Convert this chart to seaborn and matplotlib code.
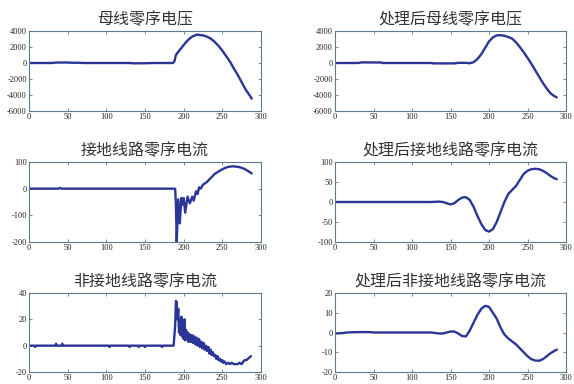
import numpy as np
import pandas as pd
import matplotlib
matplotlib.use("Agg")
import matplotlib.pyplot as plt
import seaborn as sns

sns.set_style("white")
plt.rcParams['font.family'] = ['Liberation Serif', 'Noto Sans CJK SC', 'DejaVu Sans']
plt.rcParams['axes.unicode_minus'] = False

titles = ["母线零序电压", "处理后母线零序电压",
          "接地线路零序电流", "处理后接地线路零序电流",
          "非接地线路零序电流", "处理后非接地线路零序电流"]

# Panel 1: bus zero-sequence voltage
x1 = [0, 30, 35, 50, 58, 62, 70, 130, 135, 150, 160, 186, 188, 190, 193, 198, 203, 207,
      211, 217, 225, 230, 235, 240, 245, 250, 255, 260, 265, 270, 275, 280, 285, 288]
y1 = [0, 0, 60, 60, 20, 40, 0, 0, -40, -30, 0, 0, 200, 1000, 1400, 2000, 2600, 3000,
      3300, 3550, 3450, 3300, 3050, 2650, 2150, 1550, 850, 150, -700, -1500, -2400, -3300, -4000, -4450]

# Panel 2: processed bus voltage
x2 = [0, 30, 35, 60, 62, 125, 128, 155, 160, 170, 175, 180, 185, 190, 195, 200, 205, 210,
      215, 220, 225, 230, 235, 240, 245, 250, 255, 260, 265, 270, 275, 280, 285, 288]
y2 = [0, 0, 80, 60, 0, 0, -50, -50, 20, 20, -30, 100, 500, 1100, 1900, 2700, 3200, 3450,
      3480, 3400, 3250, 3050, 2600, 2000, 1350, 650, -100, -900, -1700, -2500, -3200, -3800, -4150, -4300]

# Panel 3: grounded line zero-sequence current
x3 = [0, 38, 40, 42, 189, 190, 191, 193, 195, 197, 199, 200, 202, 205, 208, 211, 213, 216,
      218, 220, 222, 225, 230, 235, 240, 247, 253, 258, 264, 272, 278, 284, 288]
y3 = [0, 0, 3, 0, 0, -60, -200, -40, -130, -35, -60, -35, -90, -30, -55, -30, -45, -10,
      -20, 5, 0, 15, 25, 40, 55, 68, 77, 82, 84, 81, 75, 65, 57]

# Panel 4: processed grounded line current
x4 = [0, 125, 135, 140, 145, 150, 155, 160, 165, 170, 175, 180, 185, 190, 195, 200, 205,
      210, 215, 220, 225, 230, 235, 240, 245, 250, 255, 260, 265, 270, 275, 280, 285, 288]
y4 = [0, 0, 1, 0, -3, -6, -3, 5, 11, 12, 5, -12, -35, -55, -70, -74, -68,
      -50, -25, 0, 20, 30, 40, 55, 70, 78, 82, 83, 82, 78, 72, 65, 59, 57]

# Panel 5: non-grounded line current
x5 = [0, 7, 8, 9, 34, 35, 36, 42, 43, 44, 103, 104, 105, 129, 130, 131, 141, 142, 143,
      149, 150, 151, 171, 172, 173, 187, 189, 190, 191, 192, 193, 194, 195, 196, 197, 198,
      199, 200, 201, 202, 203, 204, 205, 206, 207, 208, 209, 210, 211, 212, 214, 215, 217,
      218, 220, 221, 223, 224, 226, 227, 229, 230, 232, 233, 235, 236, 238, 239, 241, 242,
      244, 245, 247, 248, 250, 251, 253, 255, 258, 260, 262, 265, 270, 272, 275, 277, 279,
      281, 283, 285, 287]
y5 = [0, 0, -1, 0, 0, 1.5, 0, 0, 1.5, 0, 0, -1, 0, 0, -1, 0, 0, -1, 0,
      0, -1, 0, 0, -1, 0, 0, 15, 34, 33, 20, 28, 10, 20, 8, 22, 7,
      15, 5, 20, 4, 12, 5, 10, 3, 9, 3, 8, 3, 8, 2, 7, 1, 6,
      0, 5, -1, 3, -2, 2, -3, 0, -4, -1, -6, -3, -7, -5, -8, -7, -10,
      -8, -11, -10, -12, -11, -13, -12, -14, -13, -14, -13, -14, -14, -13, -14, -12, -11,
      -11, -10, -9, -8]

# Panel 6: processed non-grounded line current
x6 = [0, 10, 15, 30, 45, 50, 100, 125, 135, 140, 145, 150, 155, 160, 165, 170, 175, 180,
      185, 190, 195, 200, 205, 210, 215, 220, 225, 230, 235, 240, 245, 250, 255, 260, 265,
      270, 275, 280, 285, 288]
y6 = [-0.5, -0.3, 0, 0.2, 0.2, 0, 0, 0, -0.5, -0.5, 0, 0.5, 0.5, -0.5, -1.8, -2, 1, 5,
      9, 12, 13.5, 13, 10, 7, 2.5, -1, -3, -4.5, -6, -8, -10, -12, -13.5, -14.2, -14.3,
      -13.5, -12, -10.5, -9.3, -8.7]

series = [(x1, y1), (x2, y2), (x3, y3), (x4, y4), (x5, y5), (x6, y6)]
ylims = [(-6000, 4000), (-6000, 4000), (-200, 100), (-100, 100), (-20, 40), (-20, 20)]
yticks = [[-6000, -4000, -2000, 0, 2000, 4000], [-6000, -4000, -2000, 0, 2000, 4000],
          [-200, -100, 0, 100], [-100, -50, 0, 50, 100],
          [-20, 0, 20, 40], [-20, -10, 0, 10, 20]]
xticks = [0, 50, 100, 150, 200, 250, 300]

W, H = 574, 384
fig = plt.figure(figsize=(W / 100, H / 100), dpi=100)
fig.patch.set_facecolor("white")

col_x = [(29, 261), (335, 566)]
row_y = [(31, 111), (162, 242), (293, 372)]

line_color = "#2a3596"
frame_color = "#5d7b8c"

for i, ((xs, ys), title) in enumerate(zip(series, titles)):
    r, c = divmod(i, 2)
    x0, x1p = col_x[c]
    t, b = row_y[r]
    ax = fig.add_axes([x0 / W, 1 - b / H, (x1p - x0) / W, (b - t) / H])
    df = pd.DataFrame({"n": xs, "v": ys})
    sns.lineplot(data=df, x="n", y="v", ax=ax, color=line_color, linewidth=1.7,
                 estimator=None, sort=False)
    ax.set_xlim(0, 300)
    ax.set_ylim(*ylims[i])
    ax.set_xticks(xticks)
    ax.set_yticks(yticks[i])
    ax.set_xlabel("")
    ax.set_ylabel("")
    ax.tick_params(direction="in", length=2, width=0.6, colors=frame_color,
                   labelcolor="#222222", labelsize=6, pad=1.5,
                   top=True, right=True, bottom=True, left=True)
    for s in ax.spines.values():
        s.set_color(frame_color)
        s.set_linewidth(0.8)
    ax.set_title(title, fontsize=11.5, family=['Noto Sans CJK SC', 'DejaVu Sans'],
                 color="#333333", pad=5)

fig.savefig("out.png", dpi=100, facecolor="white")
